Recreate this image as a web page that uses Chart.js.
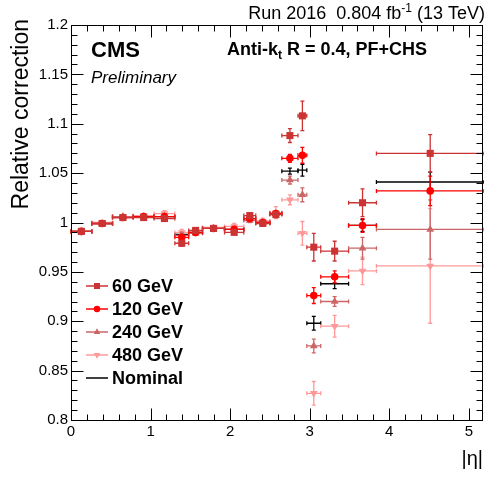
<!DOCTYPE html>
<html>
<head>
<meta charset="utf-8">
<script src="https://cdn.jsdelivr.net/npm/chart.js@4/dist/chart.umd.min.js"></script>
<style>
  html, body { margin: 0; padding: 0; background: #fff; }
  #wrap { width: 484px; height: 477px; }
</style>
</head>
<body>
<div id="wrap"><canvas id="corrPlot"></canvas></div>
<script>
// |eta| bin edges
const etaEdges = [0, 0.261, 0.522, 0.783, 1.044, 1.305, 1.479, 1.653, 1.930, 2.172, 2.322, 2.500, 2.650, 2.853, 2.964, 3.139, 3.489, 3.839, 5.191];

// relative correction per bin
const corr60  = [0.991, 0.999, 1.005, 1.005, 1.004, 0.979, 0.992, 0.994, 0.990, 1.007, 0.999, 1.008, 1.088, 1.108, 0.975, 0.971, 1.020, 1.070];
const err60   = [0.002, 0.002, 0.002, 0.002, 0.002, 0.003, 0.002, 0.002, 0.002, 0.003, 0.002, 0.003, 0.007, 0.015, 0.014, 0.010, 0.014, 0.019];
const corr120 = [0.991, 0.999, 1.005, 1.006, 1.006, 0.985, 0.990, 0.994, 0.993, 1.004, 1.000, 1.009, 1.065, 1.068, 0.926, 0.945, 0.997, 1.032];
const err120  = [0.002, 0.002, 0.002, 0.002, 0.002, 0.003, 0.002, 0.002, 0.002, 0.002, 0.002, 0.003, 0.004, 0.008, 0.008, 0.006, 0.007, 0.015];
const corr240 = [0.991, 0.999, 1.006, 1.006, 1.006, 0.987, 0.989, 0.994, 0.993, 1.002, 1.000, 1.009, 1.043, 1.028, 0.875, 0.920, 0.974, 0.993];
const err240  = [0.002, 0.002, 0.002, 0.002, 0.002, 0.003, 0.002, 0.002, 0.002, 0.002, 0.002, 0.003, 0.004, 0.007, 0.007, 0.005, 0.011, 0.030];
const corr480 = [0.991, 1.000, 1.006, 1.007, 1.009, 0.990, 0.990, 0.995, 0.996, 1.004, 1.0015, 1.010, 1.023, 0.989, 0.827, 0.895, 0.951, 0.956];
const err480  = [0.002, 0.002, 0.002, 0.002, 0.003, 0.003, 0.003, 0.002, 0.003, 0.003, 0.003, 0.006, 0.005, 0.012, 0.012, 0.011, 0.014, 0.058];
const corrNom = [0.991, 0.999, 1.006, 1.006, 1.006, 0.988, 0.990, 0.994, 0.993, 1.004, 1.000, 1.009, 1.052, 1.053, 0.898, 0.938, 0.997, 1.041];
const errNom  = [0.002, 0.002, 0.002, 0.002, 0.002, 0.002, 0.002, 0.002, 0.002, 0.002, 0.002, 0.002, 0.003, 0.006, 0.007, 0.005, 0.006, 0.010];

const xTickValues = [0, 1, 2, 3, 4, 5];
const yTickValues = [0.8, 0.85, 0.9, 0.95, 1, 1.05, 1.1, 1.15, 1.2];

const FONT = '"Liberation Sans", Arial, Helvetica, sans-serif';

function makePoints(vals, errs) {
    return vals.map((v, i) => ({
        x: (etaEdges[i] + etaEdges[i + 1]) / 2,
        y: v,
        xlo: etaEdges[i],
        xhi: etaEdges[i + 1],
        err: errs[i]
    }));
}

const series = [
    { label: '60 GeV',  data: makePoints(corr60, err60),   color: '#cc3333', style: 'rect',     radius: 5,   rot: 0 },
    { label: '120 GeV', data: makePoints(corr120, err120), color: '#ff0000', style: 'circle',   radius: 3.8, rot: 0 },
    { label: '240 GeV', data: makePoints(corr240, err240), color: '#cc6666', style: 'triangle', radius: 4.5, rot: 0 },
    { label: '480 GeV', data: makePoints(corr480, err480), color: '#ff9999', style: 'triangle', radius: 4.5, rot: 180 },
    { label: 'Nominal', data: makePoints(corrNom, errNom), color: '#000000', style: 'line',     radius: 0,   rot: 0 }
];

// error bars with small end caps, drawn under each dataset's markers
const errorBars = {
    id: 'errorBars',
    beforeDatasetDraw(chart, args) {
        const ds = chart.data.datasets[args.index];
        const xs = chart.scales.x, ys = chart.scales.y;
        const ctx = chart.ctx;
        const cap = 2;
        ctx.save();
        ctx.strokeStyle = ds.borderColor;
        ctx.lineWidth = 1.3;
        ds.data.forEach(p => {
            const x0 = xs.getPixelForValue(p.xlo), x1 = xs.getPixelForValue(p.xhi);
            const xc = xs.getPixelForValue(p.x);
            const yc = ys.getPixelForValue(p.y);
            const y0 = ys.getPixelForValue(p.y - p.err), y1 = ys.getPixelForValue(p.y + p.err);
            ctx.beginPath();
            ctx.moveTo(x0, yc); ctx.lineTo(x1, yc);
            ctx.moveTo(x0, yc - cap); ctx.lineTo(x0, yc + cap);
            ctx.moveTo(x1, yc - cap); ctx.lineTo(x1, yc + cap);
            ctx.moveTo(xc, y0); ctx.lineTo(xc, y1);
            ctx.moveTo(xc - cap, y0); ctx.lineTo(xc + cap, y0);
            ctx.moveTo(xc - cap, y1); ctx.lineTo(xc + cap, y1);
            ctx.stroke();
        });
        ctx.restore();
    }
};

// ROOT-like frame, inward ticks on all sides, labels and legend
const decorations = {
    id: 'decorations',
    afterDraw(chart) {
        const ctx = chart.ctx;
        const a = chart.chartArea;
        const xs = chart.scales.x, ys = chart.scales.y;
        const left = Math.round(a.left) + 0.5;
        const right = Math.round(a.right) - 1.5;
        const top = Math.round(a.top) + 0.5;
        const bottom = Math.round(a.bottom) + 0.5;
        ctx.save();
        ctx.strokeStyle = '#000';
        ctx.lineWidth = 1;
        ctx.strokeRect(left, top, right - left, bottom - top);

        ctx.beginPath();
        for (let i = 0; i <= 26; i++) {
            const v = i * 0.2;
            if (v > xs.max + 1e-9) break;
            const px = Math.round(xs.getPixelForValue(v)) + 0.5;
            const len = (i % 5 === 0) ? 12 : 6;
            ctx.moveTo(px, bottom); ctx.lineTo(px, bottom - len);
            ctx.moveTo(px, top); ctx.lineTo(px, top + len);
        }
        for (let i = 0; i <= 40; i++) {
            const v = 0.8 + i * 0.01;
            const py = Math.round(ys.getPixelForValue(v)) + 0.5;
            const len = (i % 5 === 0) ? 12 : 6;
            ctx.moveTo(left, py); ctx.lineTo(left + len, py);
            ctx.moveTo(right, py); ctx.lineTo(right - len, py);
        }
        ctx.stroke();

        ctx.fillStyle = '#000';
        ctx.textBaseline = 'alphabetic';

        // header
        ctx.font = '18px ' + FONT;
        const h1 = 'Run 2016  0.804 fb', h2 = '-1', h3 = ' (13 TeV)';
        const w1 = ctx.measureText(h1).width, w3 = ctx.measureText(h3).width;
        ctx.font = '12px ' + FONT;
        const w2 = ctx.measureText(h2).width;
        let hx = 485 - (w1 + w2 + w3);
        ctx.font = '18px ' + FONT;
        ctx.textAlign = 'left';
        ctx.fillText(h1, hx, 19);
        ctx.font = '12px ' + FONT;
        ctx.fillText(h2, hx + w1, 12);
        ctx.font = '18px ' + FONT;
        ctx.fillText(h3, hx + w1 + w2, 19);

        // CMS Preliminary
        ctx.font = 'bold 22px ' + FONT;
        ctx.fillText('CMS', 91, 57);
        ctx.font = 'italic 17px ' + FONT;
        ctx.fillText('Preliminary', 91, 83);

        // algorithm label
        ctx.font = 'bold 18px ' + FONT;
        const a1 = 'Anti-k', a3 = ' R = 0.4, PF+CHS';
        const aw1 = ctx.measureText(a1).width;
        ctx.fillText(a1, 227, 55);
        ctx.font = 'bold 12px ' + FONT;
        const aw2 = ctx.measureText('t').width;
        ctx.fillText('t', 227 + aw1, 59);
        ctx.font = 'bold 18px ' + FONT;
        ctx.fillText(a3, 227 + aw1 + aw2, 55);

        // axis titles
        ctx.font = '20px ' + FONT;
        ctx.textAlign = 'right';
        ctx.fillText('|\u03b7|', 483, 465);
        ctx.save();
        ctx.translate(28, 19);
        ctx.rotate(-Math.PI / 2);
        ctx.textAlign = 'right';
        ctx.font = '23px ' + FONT;
        ctx.fillText('Relative correction', 0, 0);
        ctx.restore();

        // legend
        ctx.textAlign = 'left';
        ctx.textBaseline = 'middle';
        series.forEach((s, i) => {
            const ly = 286 + i * 23;
            ctx.strokeStyle = s.color;
            ctx.lineWidth = 1.5;
            ctx.beginPath();
            ctx.moveTo(86, ly); ctx.lineTo(108, ly);
            ctx.stroke();
            if (s.radius > 0) {
                ctx.fillStyle = s.color;
                Chart.helpers.drawPoint(ctx, {
                    pointStyle: s.style, radius: s.radius * 0.85, rotation: s.rot, borderWidth: 0
                }, 97, ly);
            }
            ctx.fillStyle = '#000';
            ctx.font = 'bold 18px ' + FONT;
            ctx.fillText(s.label, 112, ly + 1);
        });
        ctx.restore();
    }
};

const ctx = document.getElementById('corrPlot').getContext('2d');
const corrChart = new Chart(ctx, {
    type: 'scatter',
    data: {
        datasets: series.map(s => ({
            label: s.label,
            data: s.data,
            borderColor: s.color,
            backgroundColor: s.color,
            pointStyle: s.style === 'line' ? 'circle' : s.style,
            pointRadius: s.radius,
            pointRotation: s.rot,
            pointBorderWidth: 0,
            pointHoverRadius: s.radius
        }))
    },
    options: {
        responsive: true,
        maintainAspectRatio: false,
        animation: false,
        events: [],
        layout: { autoPadding: false, padding: { left: 0, right: 0, top: 25, bottom: 0 } },
        plugins: {
            legend: { display: false },
            tooltip: { enabled: false }
        },
        scales: {
            x: {
                type: 'linear',
                min: 0,
                max: 5.191,
                grid: { display: false, drawTicks: false },
                border: { display: false },
                afterBuildTicks: s => { s.ticks = xTickValues.map(v => ({ value: v })); },
                afterFit: s => { s.height = 57; s.paddingLeft = 0; s.paddingRight = 0; },
                ticks: {
                    color: '#000',
                    font: { family: FONT, size: 15 },
                    padding: 3,
                    maxRotation: 0,
                    autoSkip: false,
                    callback: v => String(v)
                }
            },
            y: {
                type: 'linear',
                min: 0.8,
                max: 1.2,
                grid: { display: false, drawTicks: false },
                border: { display: false },
                afterBuildTicks: s => { s.ticks = yTickValues.map(v => ({ value: v })); },
                afterFit: s => { s.width = 71; s.paddingTop = 0; s.paddingBottom = 0; },
                ticks: {
                    color: '#000',
                    font: { family: FONT, size: 15 },
                    padding: 3,
                    autoSkip: false,
                    callback: v => String(parseFloat(Number(v).toFixed(2)))
                }
            }
        }
    },
    plugins: [errorBars, decorations]
});
</script>
</body>
</html>
